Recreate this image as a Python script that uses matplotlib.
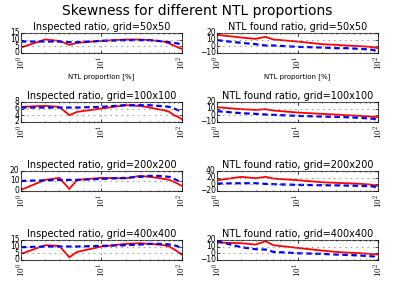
import matplotlib
matplotlib.use("Agg")
import matplotlib.pyplot as plt

plt.style.use('classic')

x = [1, 2, 3, 4, 5, 10, 20, 30, 40, 50, 60, 70, 80, 90, 100]
xticks = [1, 10, 100]
xticklabels = [r'$10^{0}$', r'$10^{1}$', r'$10^{2}$']

grids = ["50x50", "100x100", "200x200", "400x400"]

insp_red = [
    [4, 10, 9, 6, 7.5, 9, 10, 10, 9.5, 9, 8.5, 7, 5.5, 4, 3],
    [6.5, 6.8, 6.5, 4, 5, 6, 7, 6.8, 6.3, 5.8, 5.5, 5, 4, 3.5, 2.8],
    [1, 11, 13, 2, 11, 13, 12.5, 15, 14, 13, 12, 11, 9, 7, 5],
    [4.5, 11, 10.5, 2, 6, 10, 12, 12.5, 12, 11.5, 11, 10, 8, 6, 4],
]
insp_blue = [
    [8.5, 8.5, 8.5, 8, 8, 9, 9.5, 9.5, 9.5, 9, 8.5, 8, 7.5, 7, 5.5],
    [6.3, 6.3, 6.3, 6.3, 6.3, 6.5, 7, 7, 7, 6.8, 6.7, 6.5, 6, 5.5, 5],
    [10, 10.5, 11, 11, 11, 12, 13, 14, 15, 15, 14.5, 14, 12, 10, 8],
    [9.5, 10, 10, 10, 10, 10.5, 11, 11.5, 12, 12, 12, 11.5, 11, 10, 8],
]
found_red = [
    [17, 13, 11, 14, 10, 7, 3, 2, 1, 0.5, 0, -0.5, -1, -2, -3],
    [12, 9, 8, 9, 7, 4, 2, 1, 0, -0.5, -1, -1.5, -2, -2.5, -3],
    [12, 22, 18, 22, 17, 12, 6, 4, 3, 2, 1, 0, -1, -3, -5],
    [16, 15, 13, 18, 12, 8, 4, 2, 1, 0.5, 0, -0.5, -1, -1.5, -2],
]
found_blue = [
    [9, 5, 3, 1, 1, -1, -2, -3, -3, -3.5, -4, -4.5, -5, -6, -10],
    [6, 3, 2, 1, 0.5, -1, -2, -2.5, -3, -3.5, -4, -4.5, -5, -5.5, -8],
    [2, 3, 3, 1, 0, -2, -3, -3.5, -4, -4.5, -5, -5.5, -6, -7, -15],
    [18, 9, 6, 5.5, 2, 0, -1, -2, -2.5, -3, -3.5, -4, -4.5, -5, -12],
]

insp_ylim = [(0, 15), (2, 8), (0, 20), (0, 15)]
insp_ticks = [[0, 5, 10, 15], [2, 4, 6, 8], [0, 10, 20], [0, 5, 10, 15]]
found_ylim = [(-10, 20), (-10, 20), (-20, 40), (-10, 20)]
found_ticks = [[-10, 0, 10, 20], [-10, 0, 10, 20], [-20, 0, 20, 40], [-10, 0, 10, 20]]

fig, axes = plt.subplots(4, 2, figsize=(3.95, 2.96), dpi=100)
fig.patch.set_facecolor('white')
fig.subplots_adjust(left=0.053, right=0.957, top=0.889, bottom=0.122,
                    wspace=0.22, hspace=2.45)
fig.suptitle("Skewness for different NTL proportions", fontsize=10, y=0.985)

for i in range(4):
    for j in range(2):
        ax = axes[i, j]
        if j == 0:
            r, b = insp_red[i], insp_blue[i]
            ylim, yt = insp_ylim[i], insp_ticks[i]
            title = "Inspected ratio, grid=" + grids[i]
        else:
            r, b = found_red[i], found_blue[i]
            ylim, yt = found_ylim[i], found_ticks[i]
            title = "NTL found ratio, grid=" + grids[i]
        ax.plot(x, r, 'r-', lw=1.3)
        ax.plot(x, b, 'b--', lw=1.6, dashes=(4, 2.5))
        ax.set_xscale('log')
        ax.set_xlim(1, 100)
        ax.set_ylim(*ylim)
        ax.set_yticks(yt)
        ax.set_xticks(xticks)
        ax.set_xticklabels(xticklabels, rotation=90, fontsize=6.5)
        ax.set_title(title, fontsize=7, pad=2)
        ax.grid(True, color='gray', linestyle=':', linewidth=0.6)
        ax.tick_params(length=2, width=0.5, pad=1)
        ax.tick_params(axis='y', labelsize=5.5)
        ax.tick_params(axis='x', pad=2)
        ax.tick_params(which='minor', length=1, width=0.4)
        for s in ax.spines.values():
            s.set_linewidth(0.8)
            s.set_color('#444444')
        if i == 0:
            ax.set_xlabel("NTL proportion [%]", fontsize=5, labelpad=2)

fig.savefig("out.png", dpi=100, facecolor='white')
